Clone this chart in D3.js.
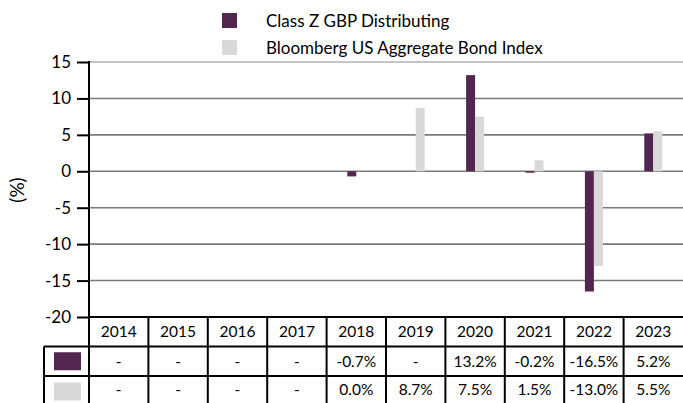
<!DOCTYPE html>
<html>
<head>
<meta charset="utf-8">
<script src="https://cdn.jsdelivr.net/npm/d3@7"></script>
<style>
  body { margin: 0; background: #fff; }
  svg { display: block; font-family: Lato, "Open Sans", sans-serif; }
</style>
</head>
<body>
<svg id="chart" width="683" height="403"></svg>
<script>
const years = ['2014', '2015', '2016', '2017', '2018', '2019', '2020', '2021', '2022', '2023']
const seriesNames = ['Class Z GBP Distributing', 'Bloomberg US Aggregate Bond Index']
const fundValues = [null, null, null, null, -0.7, null, 13.2, -0.2, -16.5, 5.2]
const indexValues = [null, null, null, null, 0.0, 8.7, 7.5, 1.5, -13.0, 5.5]
const yTicks = [15, 10, 5, 0, -5, -10, -15, -20]
const colors = ['#53264f', '#d9d9d9']

const svg = d3.select('#chart')
const plotL = 89, plotR = 683, plotT = 62, plotB = 317
const rowH = [317, 346.5, 376, 403]

const x = d3.scaleBand().domain(years).range([plotL, plotR])
const y = d3.scaleLinear().domain([-20, 15]).range([plotB, plotT])
const barW = 9

// gridlines
svg.append('g').selectAll('line')
    .data(yTicks.filter(d => d > -20))
    .enter().append('line')
    .attr('x1', plotL).attr('x2', plotR)
    .attr('y1', d => y(d)).attr('y2', d => y(d))
    .attr('stroke', d => d === 15 ? '#8a8a8a' : '#7a7a7a')
    .attr('stroke-width', d => d === 15 ? 1 : 1.6)

// bars
const series = [fundValues, indexValues]
series.forEach((vals, si) => {
    svg.append('g').selectAll('rect')
        .data(years.map((yr, i) => ({ yr, v: vals[i] })).filter(d => d.v !== null))
        .enter().append('rect')
        .attr('x', d => x(d.yr) + x.bandwidth() / 2 + (si === 0 ? -barW : 0))
        .attr('width', barW)
        .attr('y', d => y(Math.max(0, d.v)))
        .attr('height', d => Math.max(Math.abs(y(d.v) - y(0)), d.v === 0 ? 0 : 1))
        .attr('fill', colors[si])
})

// y axis (hyphen minus like the original)
const yAxis = d3.axisLeft(y).tickValues(yTicks).tickSize(12).tickSizeOuter(0).tickPadding(6)
    .tickFormat(d => String(d))
const ga = svg.append('g').attr('transform', `translate(${plotL},0)`).call(yAxis)
ga.select('.domain').remove()
ga.selectAll('.tick line').attr('stroke', '#000').attr('stroke-width', 2)
ga.selectAll('.tick text').attr('font-size', 17).attr('fill', '#000')
    .attr('font-family', 'Lato, sans-serif')
svg.append('line').attr('x1', plotL).attr('x2', plotL).attr('y1', plotT - 1).attr('y2', 403)
    .attr('stroke', '#000').attr('stroke-width', 2)

svg.append('text').attr('transform', 'translate(24,190) rotate(-90)')
    .attr('text-anchor', 'middle').attr('font-size', 19).text('(%)')

// legend
const legend = svg.append('g')
seriesNames.forEach((name, i) => {
    const ly = 13 + i * 27
    legend.append('rect').attr('x', 222).attr('y', ly).attr('width', 15).attr('height', 15).attr('fill', colors[i])
    legend.append('text').attr('x', 266).attr('y', ly + 8).attr('dy', '0.35em')
        .attr('font-size', 17).text(name)
})

// data table
const table = svg.append('g')
const fmt = v => v === null ? '-' : v.toFixed(1) + '%'
table.selectAll('text.yr').data(years).enter().append('text')
    .attr('x', d => x(d) + x.bandwidth() / 2).attr('y', (rowH[0] + rowH[1]) / 2).attr('dy', '0.35em')
    .attr('text-anchor', 'middle').attr('font-size', 15.5).text(d => d)
series.forEach((vals, si) => {
    const cy = (rowH[si + 1] + rowH[si + 2]) / 2
    table.append('g').selectAll('text').data(years).enter().append('text')
        .attr('x', d => x(d) + x.bandwidth() / 2).attr('y', cy).attr('dy', '0.35em')
        .attr('text-anchor', 'middle').attr('font-size', 15.5).text((d, i) => fmt(vals[i]))
    table.append('rect').attr('x', 54).attr('y', cy - 9 + (si ? 2 : 0)).attr('width', 27).attr('height', 18).attr('fill', colors[si])
})
const lineAttr = s => s.attr('stroke', '#000').attr('stroke-width', 2)
table.append('line').attr('x1', plotL).attr('x2', plotR).attr('y1', rowH[0]).attr('y2', rowH[0]).call(lineAttr)
table.selectAll('line.h').data([rowH[1], rowH[2]]).enter().append('line')
    .attr('x1', 44).attr('x2', plotR).attr('y1', d => d).attr('y2', d => d).call(lineAttr)
table.append('line').attr('x1', 44).attr('x2', 44).attr('y1', rowH[1]).attr('y2', 403).call(lineAttr)
table.selectAll('line.v').data(years.slice(1)).enter().append('line')
    .attr('x1', d => x(d)).attr('x2', d => x(d)).attr('y1', rowH[0]).attr('y2', 403).call(lineAttr)
</script>
</body>
</html>
